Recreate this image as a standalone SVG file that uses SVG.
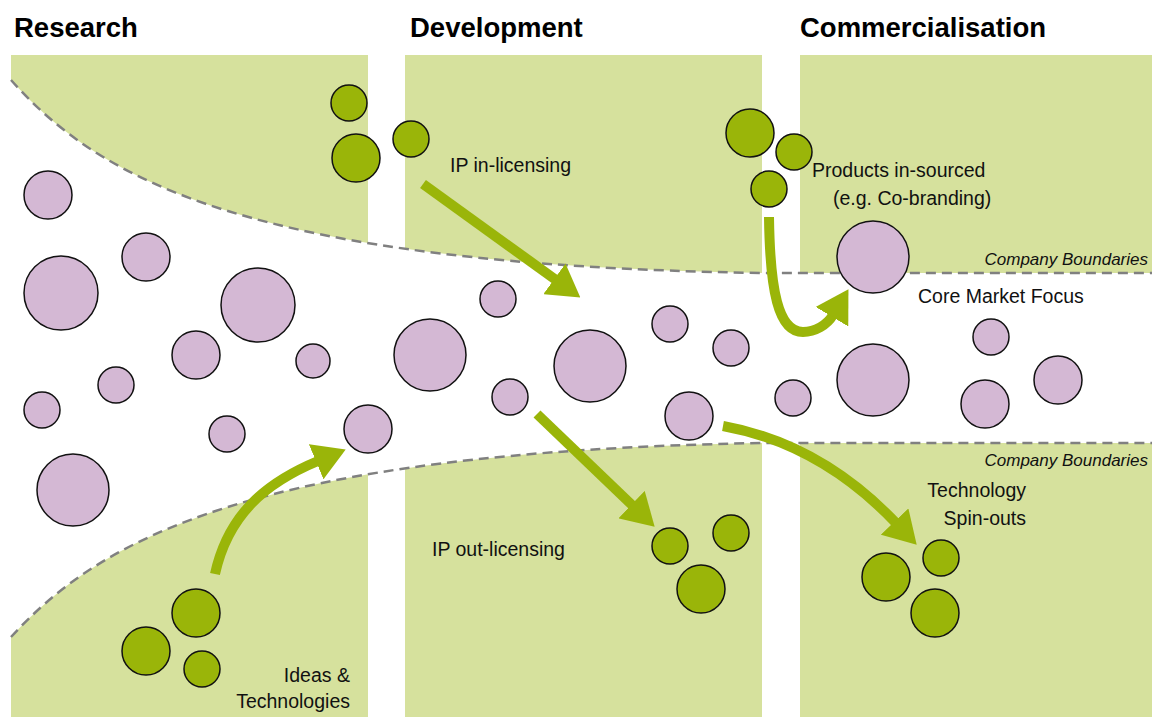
<svg xmlns="http://www.w3.org/2000/svg" width="1152" height="717" viewBox="0 0 1152 717">
<style>
.title{font-family:"Liberation Sans",Arial,sans-serif;font-weight:bold;font-size:27.5px;fill:#000}
.lbl{font-family:"Liberation Sans",Arial,sans-serif;font-size:19.5px;fill:#111}
.cb{font-family:"Liberation Sans",Arial,sans-serif;font-style:italic;font-size:17px;fill:#111;text-anchor:end}
.panel{fill:#d6e19d}
.gap{fill:#fff}
.bound{fill:none;stroke:#808080;stroke-width:2.5;stroke-dasharray:10 6}
.p{fill:#d4b8d4;stroke:#111;stroke-width:1.5}
.g{fill:#9ab509;stroke:#111;stroke-width:1.5}
.arrow{fill:none;stroke:#9ab509;stroke-width:10;marker-end:url(#head)}
</style>
<defs>
<marker id="head" markerUnits="userSpaceOnUse" markerWidth="32" markerHeight="38" viewBox="0 0 32 38" refX="2" refY="19" orient="auto">
<path d="M0,0 L32,19 L0,38 Z" fill="#9ab509"/>
</marker>
</defs>
<rect width="1152" height="717" fill="#fff"/>
<g id="panels">
<path class="panel" d="M11,55 L1152,55 L1152,273 L762,273 C250,265 100,180 11,80 Z"/>
<path class="panel" d="M11,637 C100,540 250,452 762,443 L1152,443 L1152,717 L11,717 Z"/>
<rect class="gap" x="368" y="50" width="37" height="670"/>
<rect class="gap" x="762" y="50" width="38" height="670"/>
<path class="bound" d="M11,80 C100,180 250,265 762,273 L1152,273"/>
<path class="bound" d="M11,637 C100,540 250,452 762,443 L1152,443"/>
</g>
<g id="titles">
<text class="title" x="14" y="37">Research</text>
<text class="title" x="410" y="37">Development</text>
<text class="title" x="800" y="37">Commercialisation</text>
</g>
<g id="market-circles">
<circle class="p" cx="48" cy="195" r="24"/>
<circle class="p" cx="146" cy="257" r="24"/>
<circle class="p" cx="61" cy="293" r="37"/>
<circle class="p" cx="258" cy="305" r="37"/>
<circle class="p" cx="196" cy="355" r="24"/>
<circle class="p" cx="313" cy="361" r="17"/>
<circle class="p" cx="116" cy="385" r="18"/>
<circle class="p" cx="42" cy="410" r="18"/>
<circle class="p" cx="227" cy="434" r="18"/>
<circle class="p" cx="368" cy="429" r="24"/>
<circle class="p" cx="73" cy="490" r="36"/>
<circle class="p" cx="430" cy="355" r="36"/>
<circle class="p" cx="498" cy="299" r="18"/>
<circle class="p" cx="590" cy="366" r="36"/>
<circle class="p" cx="510" cy="397" r="18"/>
<circle class="p" cx="670" cy="324" r="18"/>
<circle class="p" cx="731" cy="348" r="18"/>
<circle class="p" cx="689" cy="416" r="24"/>
<circle class="p" cx="793" cy="398" r="18"/>
<circle class="p" cx="873" cy="380" r="36"/>
<circle class="p" cx="985" cy="404" r="24"/>
<circle class="p" cx="1058" cy="380" r="24"/>
<circle class="p" cx="991" cy="337" r="18"/>
<circle class="p" cx="873" cy="257" r="36"/>
</g>
<g id="company-circles">
<circle class="g" cx="349" cy="103" r="18"/>
<circle class="g" cx="356" cy="158" r="24"/>
<circle class="g" cx="411" cy="139" r="18"/>
<circle class="g" cx="750" cy="133" r="24"/>
<circle class="g" cx="794" cy="152" r="18"/>
<circle class="g" cx="769" cy="189" r="18"/>
<circle class="g" cx="196" cy="613" r="24"/>
<circle class="g" cx="146" cy="651" r="24"/>
<circle class="g" cx="202" cy="669" r="18"/>
<circle class="g" cx="670" cy="546" r="18"/>
<circle class="g" cx="731" cy="533" r="18"/>
<circle class="g" cx="701" cy="589" r="24"/>
<circle class="g" cx="886" cy="577" r="24"/>
<circle class="g" cx="941" cy="558" r="18"/>
<circle class="g" cx="935" cy="613" r="24"/>
</g>
<g id="connectors">
<path class="arrow" d="M423,184 L556,280"/>
<path class="arrow" d="M215,574 C228,515 265,483 318,461"/>
<path class="arrow" d="M537,414 L633,506"/>
<path class="arrow" d="M723,426 C800,440 855,480 896,523"/>
<path class="arrow" d="M769,217 C770,290 778,332 803,332 C815,332 827,325 833,315"/>
</g>
<g id="labels">
<text class="lbl" x="450" y="172">IP in-licensing</text>
<text class="lbl" x="812" y="177">Products in-sourced</text>
<text class="lbl" x="833" y="205">(e.g. Co-branding)</text>
<text class="cb" x="1148" y="265">Company Boundaries</text>
<text class="lbl" x="918" y="303">Core Market Focus</text>
<text class="cb" x="1148" y="466">Company Boundaries</text>
<text class="lbl" x="1026" y="497" text-anchor="end">Technology</text>
<text class="lbl" x="1026" y="525" text-anchor="end">Spin-outs</text>
<text class="lbl" x="432" y="556">IP out-licensing</text>
<text class="lbl" x="350" y="682" text-anchor="end">Ideas &amp;</text>
<text class="lbl" x="350" y="708" text-anchor="end">Technologies</text>
</g>
</svg>
